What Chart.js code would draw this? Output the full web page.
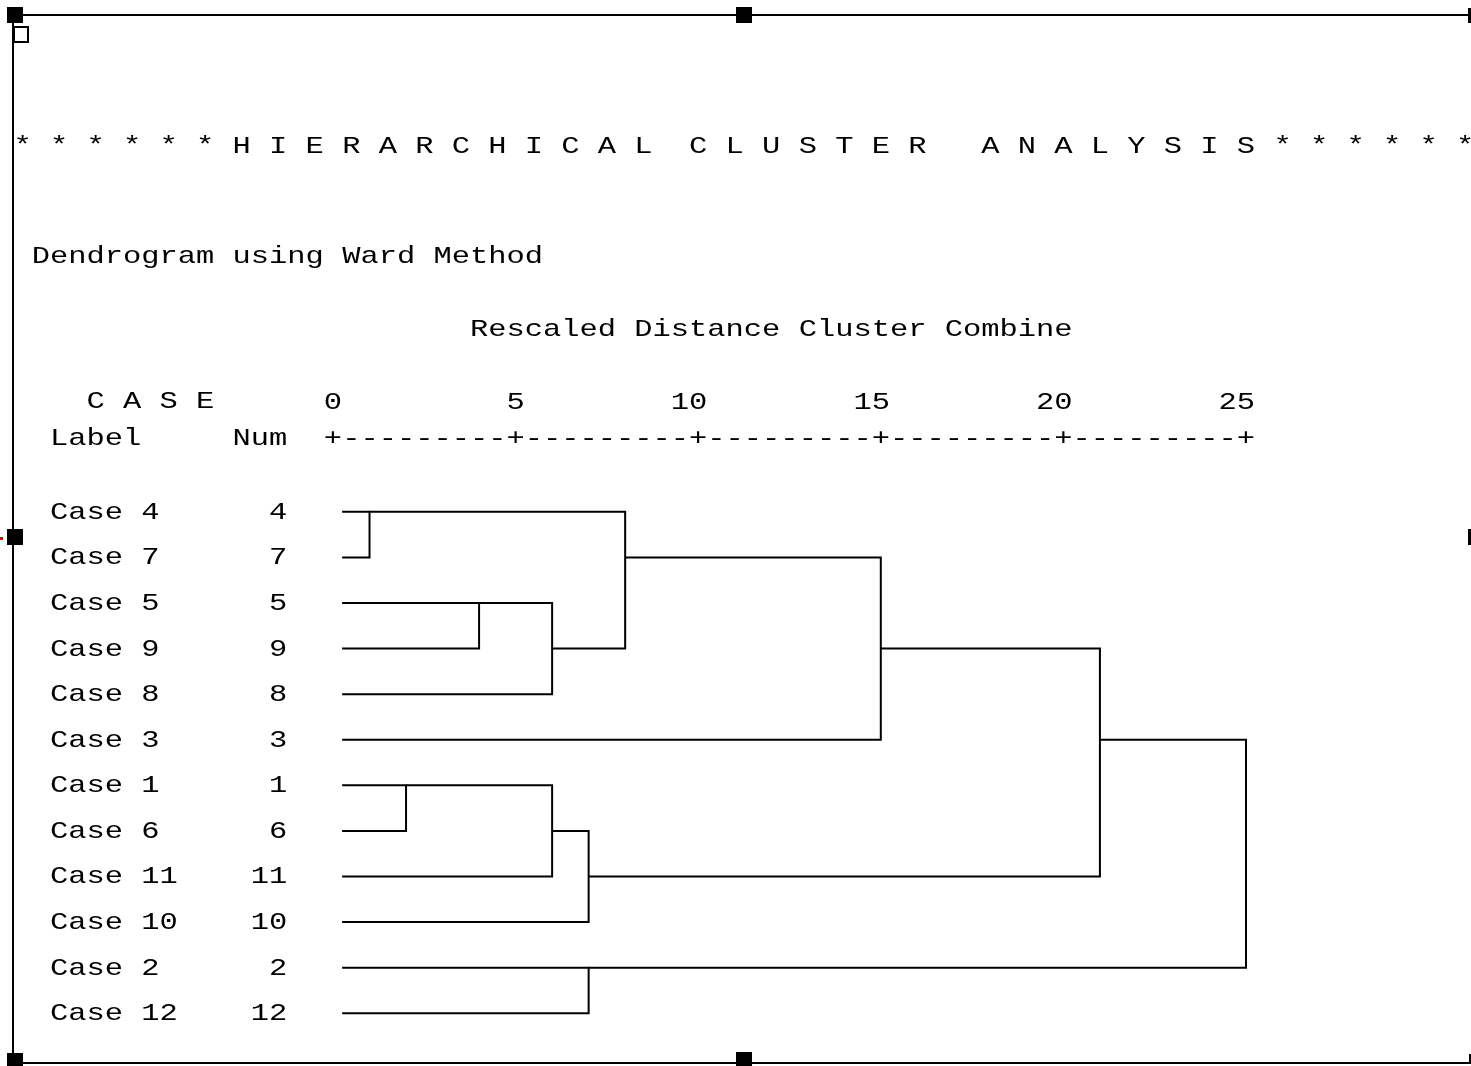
<!DOCTYPE html>
<html>
<head>
<meta charset="utf-8">
<title>Hierarchical Cluster Analysis</title>
<script src="https://cdn.jsdelivr.net/npm/chart.js@4.4.1/dist/chart.umd.min.js"></script>
<style>
  html, body { margin: 0; padding: 0; background: #fff; }
  canvas { display: block; }
</style>
</head>
<body>
<canvas id="dendro" width="1471" height="1066"></canvas>
<script>
// Cases in dendrogram order (top to bottom)
const CASE_LABELS = ['Case 4', 'Case 7', 'Case 5', 'Case 9', 'Case 8', 'Case 3',
                     'Case 1', 'Case 6', 'Case 11', 'Case 10', 'Case 2', 'Case 12'];
const CASE_NUMS = [4, 7, 5, 9, 8, 3, 1, 6, 11, 10, 2, 12];

// Agglomeration schedule: clusters joined (by lowest case number) and rescaled distance
const MERGE_A = [4, 1, 5, 5, 1, 1, 2, 4, 3, 1, 1];
const MERGE_B = [7, 6, 9, 8, 11, 10, 12, 5, 4, 3, 2];
const MERGE_DIST = [1, 2, 4, 6, 6, 7, 7, 8, 15, 21, 25];

// Distance scale ticks
const TICK_VALUES = [0, 5, 10, 15, 20, 25];

const TITLE = '* * * * * * H I E R A R C H I C A L  C L U S T E R   A N A L Y S I S * * * * * *';
const SUBTITLE = 'Dendrogram using Ward Method';
const SCALE_TITLE = 'Rescaled Distance Cluster Combine';

const LEAF_START = 0.25;   // leaves begin half a text column right of 0
const LABEL_COLS = 15;     // text column of the distance 0 tick
const COLS_PER_UNIT = 2;   // text columns per unit of rescaled distance

// Build one bracket per merge from the schedule
function buildBrackets() {
  const clusters = {};
  CASE_NUMS.forEach((n, i) => { clusters[n] = { y: i, x: LEAF_START }; });
  const sets = [];
  for (let k = 0; k < MERGE_DIST.length; k++) {
    const a = clusters[MERGE_A[k]], b = clusters[MERGE_B[k]], d = MERGE_DIST[k];
    sets.push({
      data: [{ x: a.x, y: a.y }, { x: d, y: a.y }, { x: d, y: b.y }, { x: b.x, y: b.y }],
      showLine: true,
      borderColor: '#000',
      borderWidth: 2,
      pointRadius: 0,
      tension: 0,
      clip: false
    });
    const rep = Math.min(MERGE_A[k], MERGE_B[k]);
    const other = Math.max(MERGE_A[k], MERGE_B[k]);
    delete clusters[other];
    clusters[rep] = { y: Math.floor((a.y + b.y) / 2), x: d };
  }
  return sets;
}

const FONT = '24px "Liberation Mono", "Courier New", monospace';

// Draw a string on the fixed-pitch text grid used by the listing
function drawCols(ctx, g, text, col, baseline) {
  ctx.save();
  ctx.translate(g.x0 + col * g.cw, baseline);
  ctx.scale(g.sx, 1);
  ctx.fillText(text, 0, 0);
  ctx.restore();
}

const listingPlugin = {
  id: 'listing',
  beforeDraw(chart) {
    const ctx = chart.ctx;
    ctx.save();
    ctx.fillStyle = '#fff';
    ctx.fillRect(0, 0, chart.width, chart.height);
    ctx.restore();
  },
  afterDraw(chart) {
    const ctx = chart.ctx;
    const xs = chart.scales.x, ys = chart.scales.y;
    const p0 = xs.getPixelForValue(TICK_VALUES[0]);
    const pN = xs.getPixelForValue(TICK_VALUES[TICK_VALUES.length - 1]);
    const cw = (pN - p0) / ((TICK_VALUES[TICK_VALUES.length - 1] - TICK_VALUES[0]) * COLS_PER_UNIT);
    ctx.save();
    ctx.font = FONT;
    ctx.fillStyle = '#000';
    ctx.textAlign = 'left';
    ctx.textBaseline = 'alphabetic';
    const g = { cw, x0: p0 - (LABEL_COLS + 0.5) * cw, sx: cw / ctx.measureText('0').width };

    drawCols(ctx, g, TITLE, -2, 153);
    drawCols(ctx, g, SUBTITLE, -1, 263);
    drawCols(ctx, g, SCALE_TITLE, 23, 336);
    drawCols(ctx, g, 'C A S E', 2, 408);
    drawCols(ctx, g, 'Label', 0, 445);
    drawCols(ctx, g, 'Num', 10, 445);

    // tick numbers (last digit sits on the tick) and the ruler
    let ruler = '';
    TICK_VALUES.forEach((v, i) => {
      const s = String(v);
      const col = LABEL_COLS + v * COLS_PER_UNIT;
      drawCols(ctx, g, s, col - s.length + 1, 409);
      if (i > 0) ruler += '-'.repeat((v - TICK_VALUES[i - 1]) * COLS_PER_UNIT - 1);
      ruler += '+';
    });
    drawCols(ctx, g, ruler, LABEL_COLS, 445);

    // case labels and numbers
    CASE_LABELS.forEach((lab, i) => {
      const base = ys.getPixelForValue(i) + 7;
      drawCols(ctx, g, lab, 0, base);
      const n = String(CASE_NUMS[i]);
      drawCols(ctx, g, n, 13 - n.length, base);
    });
    ctx.restore();

    // output frame with selection handles
    ctx.save();
    ctx.fillStyle = '#000';
    ctx.fillRect(12, 14, 1459, 2);
    ctx.fillRect(12, 14, 2, 1050);
    ctx.fillRect(12, 1062, 1459, 2);
    ctx.fillRect(1469, 1054, 2, 10);
    ctx.fillRect(7, 7, 16, 16);
    ctx.fillRect(736, 7, 16, 16);
    ctx.fillRect(7, 529, 16, 16);
    ctx.fillRect(7, 1053, 16, 16);
    ctx.fillRect(736, 1052, 16, 16);
    ctx.fillRect(1468, 8, 3, 15);
    ctx.fillRect(1468, 529, 3, 16);
    ctx.fillStyle = '#fff';
    ctx.fillRect(14, 27, 14, 15);
    ctx.strokeStyle = '#000';
    ctx.lineWidth = 2;
    ctx.strokeRect(14, 27, 14, 15);
    ctx.fillStyle = '#e00000';
    ctx.fillRect(0, 537, 3, 3);
    ctx.restore();
  }
};

new Chart(document.getElementById('dendro'), {
  type: 'scatter',
  data: { datasets: buildBrackets() },
  options: {
    responsive: false,
    animation: false,
    events: [],
    layout: { padding: { left: 333, right: 225, top: 489, bottom: 30 } },
    scales: {
      x: { type: 'linear', min: 0, max: 25, display: false },
      y: { type: 'linear', min: -0.5, max: 11.5, reverse: true, display: false }
    },
    plugins: { legend: { display: false }, tooltip: { enabled: false }, title: { display: false } }
  },
  plugins: [listingPlugin]
});
</script>
</body>
</html>
